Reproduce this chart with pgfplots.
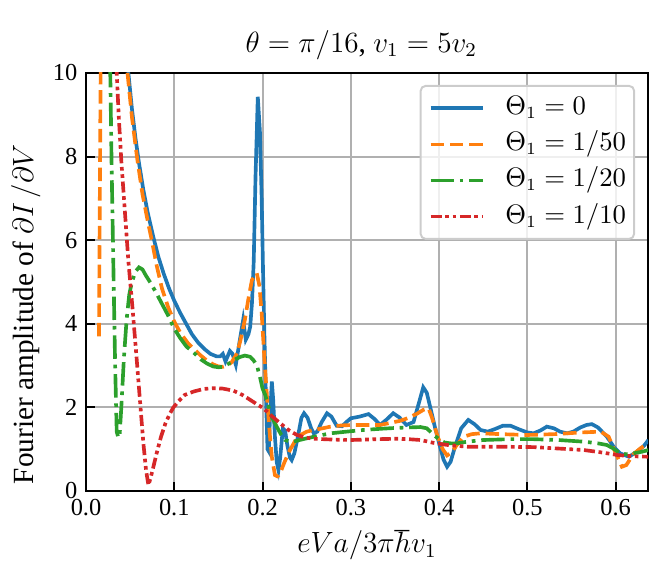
\documentclass[border=0pt]{standalone}
\usepackage{fontspec}
\setmainfont{Liberation Serif}
\usepackage{pgfplots}
\pgfplotsset{compat=1.18}
\definecolor{c0}{HTML}{1F77B4}
\definecolor{c1}{HTML}{FF7F0E}
\definecolor{c2}{HTML}{2CA02C}
\definecolor{c3}{HTML}{D62728}
\definecolor{gridc}{HTML}{B0B0B0}
\begin{document}
\begin{tikzpicture}
\useasboundingbox (-35.26pt,-34.44pt) rectangle (237.8pt,201.31pt);
\begin{axis}[
  scale only axis,
  width=230.42pt, height=171.38pt,
  xmin=0, xmax=0.6366, ymin=0, ymax=10,
  xtick={0,0.1,0.2,0.3,0.4,0.5,0.6},
  ytick={0,2,4,6,8,10},
  xticklabel style={/pgf/number format/.cd, fixed, fixed zerofill, precision=1},
  /pgf/number format/assume math mode=true,
  tick label style={font=\normalsize},
  tick align=inside, xtick pos=bottom, ytick pos=left,
  major tick length=3.5pt,
  every tick/.style={black, line width=0.8pt},
  axis line style={line width=0.8pt},
  grid=major,
  major grid style={gridc, line width=0.8pt},
  title={$\theta = \pi/16$, $v_1 = 5v_2$},
  title style={font=\large, at={(axis description cs:0.49,1.015)}, anchor=base},
  xlabel={$eVa/3\pi\hbar v_1$},
  xlabel style={font=\large, at={(axis description cs:0.5,-0.1482)}, anchor=base},
  ylabel={Fourier amplitude of $\partial I\,/\partial V$},
  ylabel style={font=\large, at={(axis description cs:-0.0942,0.4234)}, anchor=base},
  legend cell align=left,
  legend image code/.code={\draw[#1] (0pt,0pt) -- (21.7pt,0pt);},
  legend style={font=\fontsize{10.6}{13}\selectfont, at={(1,1)}, anchor=north east, xshift=-5.3pt, yshift=-4.9pt,
    draw=black!20, line width=0.8pt, rounded corners=2pt, fill=white, fill opacity=0.8, text opacity=1,
    inner xsep=3.3pt, inner ysep=3.8pt, row sep=4.1pt, column sep=0pt,
    nodes={inner sep=0pt, text height=8pt, text depth=2.7pt}},
]
\addplot[c0, line width=1.5pt] coordinates {
(0.042,13) (0.048,10.0) (0.052,9.15) (0.056,8.45) (0.060,7.85) (0.065,7.2) (0.070,6.65) (0.076,6.1)
(0.082,5.6) (0.088,5.2) (0.094,4.85) (0.100,4.55) (0.107,4.25) (0.114,3.98) (0.120,3.75) (0.127,3.55)
(0.134,3.40) (0.141,3.28) (0.148,3.22) (0.152,3.22) (0.155,3.28) (0.158,3.10) (0.163,3.35) (0.166,3.28)
(0.1697,3.02) (0.173,3.45) (0.178,4.09) (0.181,3.62) (0.184,3.75) (0.186,3.93) (0.188,4.5) (0.190,5.5)
(0.192,7.5) (0.1946,9.43) (0.197,8.6) (0.199,7.0) (0.2005,5.3) (0.202,3.8) (0.2035,2.5) (0.2056,1.0)
(0.207,0.95) (0.2085,1.8) (0.2105,2.62) (0.212,2.2) (0.214,1.3) (0.216,0.7) (0.218,0.5) (0.220,0.8)
(0.223,1.5) (0.2255,1.45) (0.228,1.1) (0.231,0.8) (0.233,0.74) (0.236,0.9) (0.240,1.3) (0.244,1.75)
(0.247,1.86) (0.251,1.75) (0.255,1.5) (0.258,1.38) (0.262,1.42) (0.267,1.65) (0.273,1.86) (0.278,1.78)
(0.284,1.56) (0.290,1.55) (0.295,1.65) (0.300,1.74) (0.310,1.78) (0.320,1.84) (0.327,1.72) (0.333,1.58)
(0.340,1.70) (0.348,1.86) (0.355,1.76) (0.363,1.58) (0.371,1.65) (0.377,2.1) (0.382,2.48) (0.386,2.35)
(0.390,2.0) (0.395,1.55) (0.400,1.14) (0.405,0.75) (0.409,0.58) (0.413,0.7) (0.418,1.06) (0.425,1.5)
(0.433,1.70) (0.440,1.60) (0.447,1.46) (0.455,1.42) (0.463,1.48) (0.472,1.56) (0.481,1.56) (0.490,1.48)
(0.500,1.40) (0.507,1.38) (0.515,1.45) (0.522,1.54) (0.530,1.50) (0.537,1.42) (0.545,1.38) (0.552,1.42)
(0.560,1.52) (0.567,1.58) (0.573,1.60) (0.580,1.52) (0.590,1.30) (0.598,1.05) (0.605,0.90) (0.615,0.82)
(0.624,0.94) (0.632,1.08) (0.637,1.22)
};
\addlegendentry{\hspace{8.2pt}$\Theta_1 = 0$}
\addplot[c1, line width=1.5pt, dash pattern=on 5.55pt off 2.4pt] coordinates {
(0.0147,3.7) (0.0155,6.5) (0.0162,8.8) (0.0166,10.0) (0.018,14) (0.044,14) (0.047,10.0) (0.052,8.95)
(0.058,7.95) (0.064,7.1) (0.070,6.45) (0.0745,6.0) (0.080,5.4) (0.086,4.85) (0.093,4.4) (0.100,4.05)
(0.107,3.78) (0.115,3.55) (0.122,3.40) (0.130,3.24) (0.137,3.12) (0.144,3.03) (0.150,2.98) (0.155,2.97)
(0.160,3.0) (0.165,3.08) (0.171,3.29) (0.175,3.61) (0.180,4.1) (0.184,4.6) (0.188,5.05) (0.1935,5.21)
(0.1965,4.9) (0.199,4.25) (0.202,3.2) (0.205,2.26) (0.208,1.4) (0.2105,0.82) (0.214,0.38) (0.217,0.35)
(0.220,0.43) (0.225,0.7) (0.231,0.98) (0.237,1.2) (0.243,1.34) (0.250,1.42) (0.258,1.46) (0.268,1.50)
(0.277,1.54) (0.290,1.57) (0.303,1.58) (0.320,1.58) (0.333,1.58) (0.345,1.63) (0.356,1.68) (0.364,1.74)
(0.375,1.85) (0.382,1.94) (0.388,1.98) (0.392,1.75) (0.398,1.32) (0.404,1.0) (0.409,0.85) (0.414,0.92)
(0.420,1.1) (0.428,1.30) (0.437,1.36) (0.447,1.38) (0.47,1.36) (0.50,1.34) (0.53,1.36) (0.56,1.40)
(0.583,1.42) (0.592,1.30) (0.598,1.0) (0.602,0.82) (0.607,0.58) (0.612,0.62) (0.620,0.88) (0.628,1.02)
(0.637,1.14)
};
\addlegendentry{\hspace{8.2pt}$\Theta_1 = 1/50$}
\addplot[c2, line width=1.5pt, dash pattern=on 9.6pt off 2.4pt on 1.5pt off 2.4pt] coordinates {
(0.0255,13) (0.0275,10.0) (0.029,7.8) (0.031,5.4) (0.033,3.0) (0.0348,1.42) (0.0365,1.28) (0.038,1.3)
(0.040,2.0) (0.043,3.2) (0.046,4.1) (0.049,4.7) (0.052,5.0) (0.056,5.25) (0.060,5.35) (0.064,5.3)
(0.068,5.15) (0.074,4.95) (0.080,4.72) (0.086,4.48) (0.093,4.2) (0.100,3.88) (0.107,3.65) (0.114,3.45)
(0.120,3.35) (0.130,3.15) (0.137,3.05) (0.144,2.98) (0.150,2.96) (0.155,2.97) (0.162,3.05) (0.170,3.16)
(0.175,3.21) (0.180,3.24) (0.186,3.21) (0.190,3.12) (0.1935,3.01) (0.197,2.73) (0.200,2.45) (0.203,2.3)
(0.2067,2.02) (0.211,1.75) (0.216,1.54) (0.221,1.35) (0.2256,1.22) (0.231,1.18) (0.235,1.18) (0.242,1.22)
(0.250,1.26) (0.263,1.32) (0.277,1.38) (0.295,1.42) (0.314,1.46) (0.335,1.49) (0.352,1.51) (0.365,1.52)
(0.379,1.53) (0.386,1.5) (0.390,1.42) (0.395,1.32) (0.400,1.24) (0.406,1.16) (0.413,1.14) (0.420,1.14)
(0.432,1.18) (0.450,1.22) (0.48,1.24) (0.507,1.24) (0.535,1.22) (0.564,1.18) (0.580,1.14) (0.590,1.10)
(0.597,1.02) (0.605,0.90) (0.612,0.88) (0.620,0.90) (0.630,0.94) (0.637,0.98)
};
\addlegendentry{\hspace{8.2pt}$\Theta_1 = 1/20$}
\addplot[c3, line width=1.5pt, dash pattern=on 4.5pt off 1.5pt on 1.5pt off 1.5pt on 1.5pt off 1.5pt] coordinates {
(0.033,13) (0.0348,10.0) (0.037,9.0) (0.040,7.9) (0.044,6.7) (0.048,5.5) (0.053,4.3) (0.0575,3.13)
(0.061,2.2) (0.065,1.14) (0.068,0.5) (0.0707,0.14) (0.073,0.3) (0.076,0.55) (0.080,0.90) (0.085,1.3)
(0.090,1.62) (0.095,1.85) (0.099,2.0) (0.105,2.15) (0.112,2.3) (0.122,2.38) (0.133,2.44) (0.144,2.46)
(0.155,2.45) (0.167,2.40) (0.177,2.3) (0.186,2.18) (0.194,2.07) (0.201,1.98) (0.210,1.8) (0.220,1.62)
(0.230,1.45) (0.239,1.34) (0.248,1.28) (0.258,1.25) (0.28,1.23) (0.30,1.22) (0.33,1.24) (0.352,1.25)
(0.365,1.24) (0.379,1.22) (0.394,1.15) (0.41,1.1) (0.432,1.06) (0.47,1.06) (0.507,1.05) (0.54,1.01)
(0.564,0.98) (0.585,0.92) (0.602,0.86) (0.62,0.83) (0.637,0.82)
};
\addlegendentry{\hspace{8.2pt}$\Theta_1 = 1/10$}
\end{axis}
\end{tikzpicture}
\end{document}
